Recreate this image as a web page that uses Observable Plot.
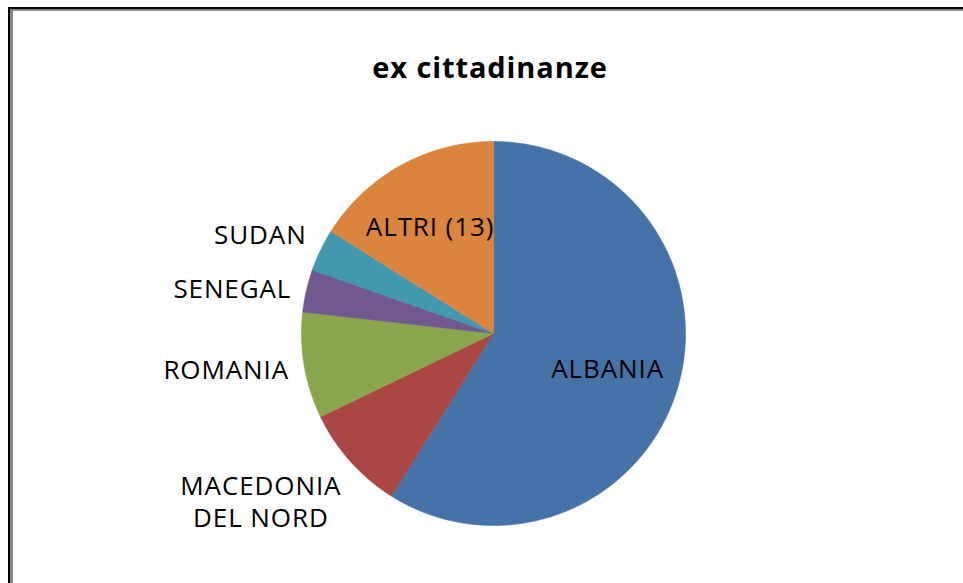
<!DOCTYPE html>
<html>
<head>
<meta charset="utf-8">
<script src="https://cdn.jsdelivr.net/npm/d3@7"></script>
<script src="https://cdn.jsdelivr.net/npm/@observablehq/plot@0.6"></script>
<style>
  html, body { margin: 0; padding: 0; background: #fff; }
  #wrap { position: relative; width: 963px; height: 583px; overflow: hidden; }
  #frame1 { position: absolute; left: 8px; top: 7px; width: 1000px; height: 700px;
            border-top: 2px solid #000; border-left: 2px solid #000; }
  #frame2 { position: absolute; left: 10px; top: 9px; width: 1000px; height: 700px;
            border-top: 2px solid #888; border-left: 3px solid #888; }
  #chart { position: absolute; left: 0; top: 0; }
  #chart svg text { letter-spacing: 0.9px; }
</style>
</head>
<body>
<div id="wrap">
  <div id="frame1"></div>
  <div id="frame2"></div>
  <div id="chart"></div>
</div>
<script>
const title = "ex cittadinanze";
const categories = ["ALBANIA", "MACEDONIA DEL NORD", "ROMANIA", "SENEGAL", "SUDAN", "ALTRI (13)"];
const values = [66, 10, 10, 4, 4, 18];
const colors = ["#4572A7", "#AA4643", "#89A54E", "#71588F", "#4198AF", "#DB843D"];

const rows = categories.map((name, i) => ({name, value: values[i]}));
const total = d3.sum(values);
const arcs = d3.pie().sort(null).value(d => d.value)(rows);

// polygon outline of each slice (unit circle, clockwise from 12 o'clock)
const points = [];
for (const a of arcs) {
  const name = a.data.name;
  points.push({name, x: 0, y: 0});
  const n = Math.max(2, Math.ceil((a.endAngle - a.startAngle) / 0.005));
  for (let k = 0; k <= n; k++) {
    const t = a.startAngle + (a.endAngle - a.startAngle) * k / n;
    points.push({name, x: Math.sin(t), y: Math.cos(t)});
  }
  points.push({name, x: 0, y: 0});
}

// labels
const labels = arcs.map(a => {
  const mid = (a.startAngle + a.endAngle) / 2;
  const inside = a.value / total >= 0.15;
  const r = inside ? 0.64 : 1.08;
  const c = Math.cos(mid);
  return {
    name: a.data.name,
    inside,
    x: r * Math.sin(mid),
    y: r * c,
    anchor: c > 0.3 ? "bottom" : c < -0.3 ? "top" : "middle"
  };
});

const font = "'Open Sans', 'Noto Sans', sans-serif";
const common = {x: "x", y: "y", text: "name", fontSize: 26, fill: "#000", fontFamily: font, lineWidth: 7, lineHeight: 1.25};

const chart = Plot.plot({
  width: 963,
  height: 583,
  margin: 0,
  style: {background: "transparent", fontFamily: font},
  x: {domain: [-1, 1], range: [301, 685], axis: null},
  y: {domain: [-1, 1], range: [525, 141], axis: null},
  color: {domain: categories, range: colors},
  marks: [
    Plot.line(points, {x: "x", y: "y", z: "name", fill: "name", stroke: "name", strokeWidth: 0.6, curve: "linear"}),
    Plot.text(labels.filter(d => d.inside), {...common, textAnchor: "middle", dx: -4}),
    Plot.text(labels.filter(d => !d.inside && d.anchor === "bottom"), {...common, textAnchor: "end", lineAnchor: "bottom"}),
    Plot.text(labels.filter(d => !d.inside && d.anchor === "middle"), {...common, textAnchor: "end", lineAnchor: "middle"}),
    Plot.text(labels.filter(d => !d.inside && d.anchor === "top"), {...common, textAnchor: "middle", lineAnchor: "top", dx: -78}),
    Plot.text([title], {frameAnchor: "top", dx: 8, dy: 57, fontSize: 29, fontWeight: "bold", fill: "#000", fontFamily: font})
  ]
});
document.getElementById("chart").appendChild(chart);
</script>
</body>
</html>
